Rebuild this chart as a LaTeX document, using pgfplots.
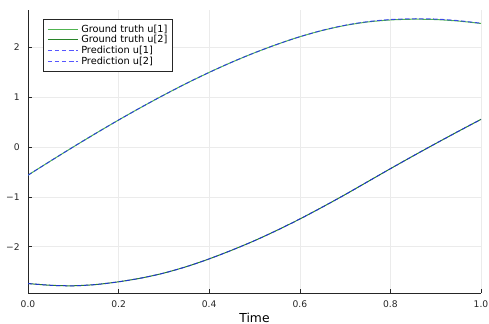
\documentclass[border=0pt]{standalone}
\usepackage{pgfplots}
\pgfplotsset{compat=1.18}
\usepackage{pgfplotstable}
\usepackage{fontspec}
\setmainfont{DejaVu Sans}
\definecolor{gt1}{RGB}{80,180,80}
\definecolor{gt2}{RGB}{40,130,40}
\definecolor{gridc}{RGB}{235,235,235}
\definecolor{pred}{RGB}{30,30,255}

\pgfplotstableread{
t     u1     u2
0.00  -0.565 -2.740
0.05  -0.279 -2.775
0.10   0.002 -2.785
0.15   0.276 -2.760
0.20   0.542 -2.705
0.25   0.798 -2.630
0.30   1.044 -2.530
0.35   1.278 -2.400
0.40   1.498 -2.245
0.45   1.703 -2.070
0.50   1.891 -1.880
0.55   2.061 -1.670
0.60   2.213 -1.445
0.65   2.340 -1.205
0.70   2.440 -0.955
0.75   2.510 -0.695
0.80   2.550 -0.435
0.85   2.565 -0.180
0.90   2.558  0.070
0.95   2.528  0.315
1.00   2.480  0.555
}\truth

\pgfplotstableread{
t     u1     u2
0.00  -0.565 -2.740
0.05  -0.279 -2.775
0.10   0.002 -2.785
0.15   0.276 -2.760
0.20   0.542 -2.705
0.25   0.798 -2.630
0.30   1.044 -2.530
0.35   1.278 -2.400
0.40   1.498 -2.245
0.45   1.703 -2.070
0.50   1.891 -1.880
0.55   2.061 -1.670
0.60   2.213 -1.445
0.65   2.342 -1.205
0.70   2.444 -0.955
0.75   2.516 -0.695
0.80   2.558 -0.435
0.85   2.574 -0.180
0.90   2.568  0.070
0.95   2.536  0.315
1.00   2.484  0.555
}\prediction

\begin{document}
\begin{tikzpicture}
\begin{axis}[
  scale only axis, width=453bp, height=283bp,
  xmin=0, xmax=1, ymin=-2.93, ymax=2.75,
  axis x line*=bottom, axis y line*=left,
  x axis line style={-, black!85, line width=0.8bp},
  y axis line style={-, black!85, line width=0.8bp},
  tick align=inside, major tick length=3.5bp,
  tick style={black!85, line width=0.6bp},
  xtick={0,0.2,0.4,0.6,0.8,1},
  xticklabels={0.0,0.2,0.4,0.6,0.8,1.0},
  ytick={-2,-1,0,1,2},
  yticklabels={−2,−1,0,1,2},
  grid=major, major grid style={gridc, line width=0.6bp},
  ticklabel style={font=\fontsize{9.2}{10}\selectfont, text=black!85},
  xticklabel style={yshift=-3.8bp},
  yticklabel style={xshift=-4.8bp},
  xlabel={Time},
  xlabel style={at={(axis description cs:0.5,0)}, anchor=north, yshift=-16.4bp, font=\fontsize{12.4}{14}\selectfont},
  legend style={at={(0.033,0.968)}, anchor=north west, font=\fontsize{9.8}{11}\selectfont,
    draw=black!85, line width=0.6bp, inner xsep=4bp, inner ysep=4.3bp,
    column sep=2bp,
    nodes={inner xsep=1bp, inner ysep=0.95bp}},
  legend cell align=left,
  legend image code/.code={\draw[#1] plot coordinates {(0bp,0bp) (30bp,0bp)};},
]
\addplot[gt1, line width=1bp, smooth] table[x=t, y=u1] {\truth};
\addlegendentry{Ground truth u[1]}
\addplot[gt2, line width=1bp, smooth] table[x=t, y=u2] {\truth};
\addlegendentry{Ground truth u[2]}
\addplot[pred, opacity=0.75, line width=1bp, smooth, dash pattern=on 4.5bp off 2.5bp] table[x=t, y=u1] {\prediction};
\addlegendentry{Prediction u[1]}
\addplot[pred, opacity=0.75, line width=1bp, smooth, dash pattern=on 4.5bp off 2.5bp] table[x=t, y=u2] {\prediction};
\addlegendentry{Prediction u[2]}
\end{axis}
\pgfresetboundingbox
\path[use as bounding box] ([shift={(-28bp,-31bp)}]current axis.south west) rectangle ([shift={(8bp,10bp)}]current axis.north east);
\end{tikzpicture}
\end{document}
